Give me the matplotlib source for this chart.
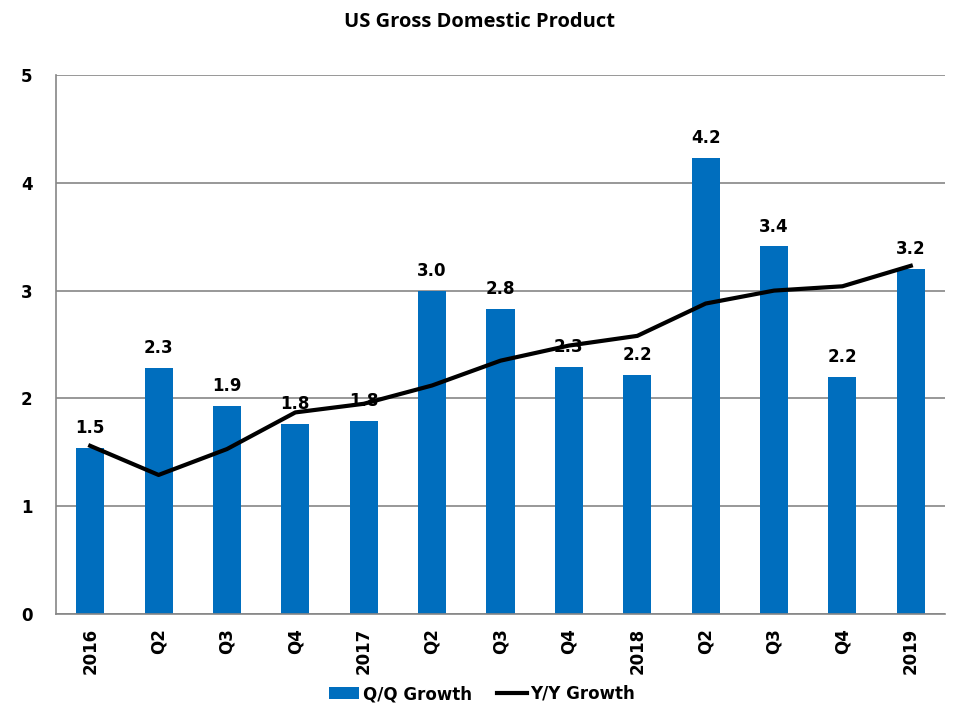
import matplotlib
matplotlib.use("Agg")
import matplotlib.pyplot as plt
import numpy as np

categories = ["2016", "Q2", "Q3", "Q4", "2017", "Q2", "Q3", "Q4", "2018", "Q2", "Q3", "Q4", "2019"]
qq_growth = [1.54, 2.28, 1.93, 1.76, 1.79, 3.00, 2.83, 2.29, 2.22, 4.23, 3.41, 2.20, 3.20]
yy_growth = [1.56, 1.29, 1.53, 1.87, 1.95, 2.12, 2.35, 2.49, 2.58, 2.88, 3.00, 3.04, 3.23]
yticks = [0, 1, 2, 3, 4, 5]

plt.rcParams['font.family'] = ['DejaVu Sans']
fig = plt.figure(figsize=(9.6, 7.2), dpi=100)
ax = fig.add_axes([56/960, 1-614/720, (945-56)/960, (614-75)/720])

x = np.arange(len(categories))
bars = ax.bar(x, qq_growth, width=0.41, color="#006EBE", label="Q/Q Growth", zorder=2)
line, = ax.plot(x, yy_growth, color="black", lw=3, label="Y/Y Growth", zorder=3)

for xi, v in zip(x, qq_growth):
    ax.text(xi, v + 0.1, f"{v:.1f}", ha="center", va="bottom", fontsize=12,
            fontweight="bold", zorder=4)

ax.set_xlim(-0.5, len(categories) - 0.5)
ax.set_ylim(0, 5)
ax.set_yticks(yticks)
ax.set_yticklabels([str(t) for t in yticks], fontsize=12, fontweight="bold")
ax.set_xticks(x)
ax.set_xticklabels(categories, rotation=90, fontsize=12, fontweight="bold")
ax.tick_params(length=0)
ax.tick_params(axis="y", pad=17)
ax.tick_params(axis="x", pad=10)
ax.grid(axis="y", color="#868686", lw=1.2, zorder=1)
for s in ["top", "right"]:
    ax.spines[s].set_visible(False)
for s in ["left", "bottom"]:
    ax.spines[s].set_color("#868686")
    ax.spines[s].set_linewidth(1.2)

fig.text(480/960, 1-22/720, "US Gross Domestic Product", ha="center", va="center",
         fontsize=14.5, fontweight="bold", family="Open Sans")

leg = fig.legend([bars, line], ["Q/Q Growth", "Y/Y Growth"], loc="center",
                 bbox_to_anchor=(482/960, 1-694/720), ncol=2, frameon=False,
                 prop={"size": 12, "weight": "bold"}, handlelength=1.8, columnspacing=1.5,
                 handletextpad=0.2)

fig.savefig("out.png", dpi=100)
